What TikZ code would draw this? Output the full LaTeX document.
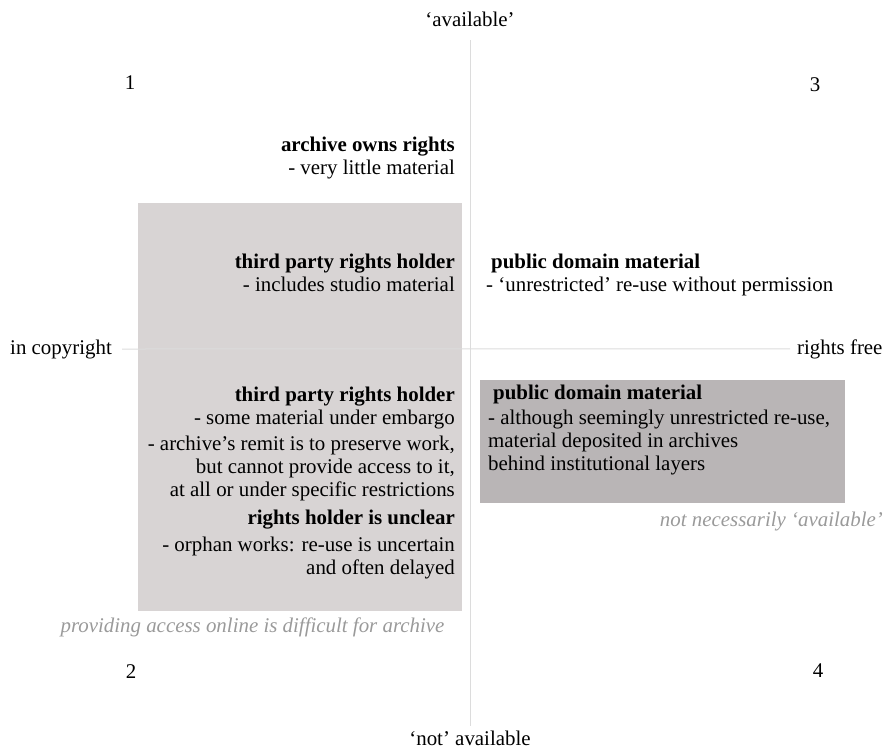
\documentclass[tikz,border=0pt]{standalone}
\usepackage{fontspec}
\setmainfont{Liberation Serif}
\usepackage{xcolor}
\usepackage{tikz}
\usetikzlibrary{positioning}
\definecolor{panel}{HTML}{D8D4D4}
\definecolor{paneldark}{HTML}{B9B5B6}
\definecolor{axisline}{HTML}{DCDCDC}
\definecolor{note}{HTML}{9A9A9A}

\begin{document}
\begin{tikzpicture}[
    x=1pt,y=-1pt,
    every node/.style={inner sep=0pt,font=\fontsize{20.9}{23}\selectfont},
    panelbox/.style={fill=panel,anchor=north west},
    darkbox/.style={fill=paneldark,anchor=north west},
    lefttext/.style={anchor=base east,align=right},
    righttext/.style={anchor=base west,align=left},
    remark/.style={font=\fontsize{20.9}{23}\selectfont\itshape,text=note},
    axis/.style={draw=axisline,line width=1pt}
  ]
    \useasboundingbox (0,0) rectangle (886,751);

    % Shaded areas
    \node[panelbox,minimum width=324pt,minimum height=408pt] (inbox) at (138,203) {};
    \node[darkbox,minimum width=365pt,minimum height=123pt] (pdbox) at (480,380) {};

    % Axis labels
    \node[anchor=base] (avail) at (470,27) {‘available’};
    \node[anchor=base] (notavail) at (470,745) {‘not’ available};
    \node[anchor=base east] (copy) at (112,354) {in copyright};
    \node[anchor=base west] (free) at (797,354) {rights free};

    % Axes
    \draw[axis,shorten <=13pt,shorten >=4pt] (avail.south) -- (notavail.north);
    \draw[axis,shorten <=10pt,shorten >=7pt] (copy.east) -- (free.west);

    % Quadrant numbers
    \node[anchor=base] (q1) at (130,90) {1};
    \node[anchor=base] (q2) at (131,678) {2};
    \node[anchor=base] (q3) at (815,92) {3};
    \node[anchor=base] (q4) at (818,677) {4};

    % Quadrant 1 (base = last line)
    \node[lefttext] (owns) at (455,175) {\textbf{archive owns rights}\\- very little material};
    \node[lefttext] (third) at (455,291) {\textbf{third party rights holder}\\- includes studio material};

    % Quadrant 2
    \node[lefttext] (embargo) at (455,496) {\textbf{third party rights holder}\\- some material under embargo\\[3pt]
      - archive’s remit is to preserve work,\\but cannot provide access to it,\\at all or under specific restrictions};
    \node[lefttext] (unclear) at (455,574) {\textbf{rights holder is unclear}\\[4pt]- orphan works: re-use is uncertain\\and often delayed};
    \node[remark,anchor=base] (online) at (252.5,632) {providing access online is difficult for archive};

    % Quadrant 3
    \node[righttext] (pdfree) at (486,291) {\hspace{5pt}\textbf{public domain material}\\- ‘unrestricted’ re-use without permission};

    % Quadrant 4
    \node[righttext] (pdlayer) at (488,470) {\hspace{5pt}\textbf{public domain material}\\[2pt]
      - although seemingly unrestricted re-use,\\material deposited in archives\\behind institutional layers};
    \node[remark,anchor=base east] (notnec) at (883,526) {not necessarily ‘available’};
  \end{tikzpicture}
\end{document}
